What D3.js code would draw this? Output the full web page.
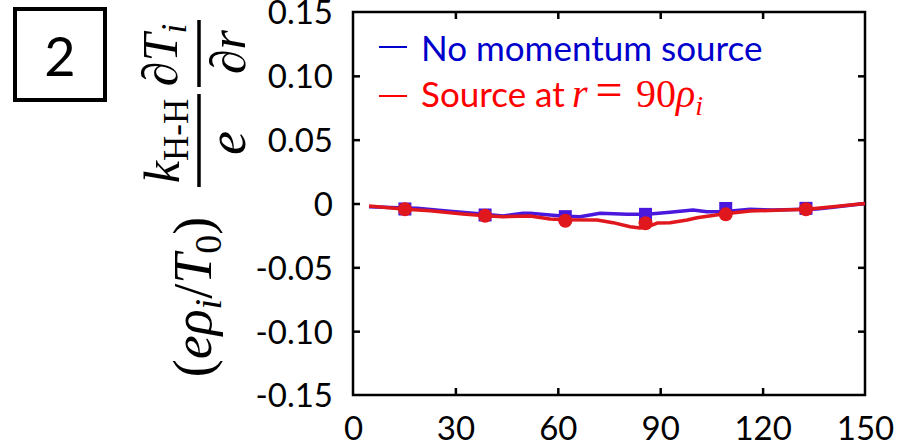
<!DOCTYPE html>
<html>
<head>
<meta charset="utf-8">
<script src="https://cdn.jsdelivr.net/npm/d3@7"></script>
<style>
  html, body { margin: 0; padding: 0; background: #fff; }
  svg { display: block; }
  .sans { font-family: Lato, "Open Sans", sans-serif; }
  .math { font-family: "Liberation Serif", "DejaVu Serif", serif; }
</style>
</head>
<body>
<svg id="chart" width="899" height="442"></svg>
<script>
// Radial coordinate r (rho_i) and heat-flux term for the two runs
const blueX = [4.7, 15.5, 18.8, 27.5, 38.7, 43.9, 49.8, 51.9, 57.7, 62.4, 66.5, 72.4, 80.3, 86.1, 92.9, 99.6, 103.7, 109.3, 116.3, 123.0, 135.9, 140.6, 150];
const blueY = [-0.0025, -0.0035, -0.0038, -0.0059, -0.0085, -0.0098, -0.0077, -0.0077, -0.0090, -0.0100, -0.0103, -0.0077, -0.0085, -0.0085, -0.0069, -0.0051, -0.0064, -0.0062, -0.0045, -0.0051, -0.0043, -0.0030, 0];
const redX = [4.7, 15.5, 22.6, 32.2, 38.7, 43.9, 51.9, 57.7, 62.4, 71.5, 76.2, 81.2, 84.1, 86.1, 89.1, 92.9, 97.9, 100.8, 108.4, 116.3, 126.0, 133.0, 140.6, 150];
const redY = [-0.0020, -0.0045, -0.0056, -0.0082, -0.0096, -0.0103, -0.0098, -0.0121, -0.0128, -0.0129, -0.0150, -0.0182, -0.0192, -0.0185, -0.0153, -0.0150, -0.0129, -0.0111, -0.0082, -0.0059, -0.0051, -0.0045, -0.0025, 0];

// Sampled points drawn as markers
const markerX = [15.2, 38.7, 62.2, 85.7, 109.2, 132.7];
const blueMarkY = [-0.0043, -0.0090, -0.0103, -0.0085, -0.0039, -0.0038];
const redMarkY = [-0.0045, -0.0096, -0.0135, -0.0155, -0.0085, -0.0045];

const seriesNames = ["No momentum source", "Source at "];
const xTicks = [0, 30, 60, 90, 120, 150];
const xTickLabels = ["0", "30", "60", "90", "120", "150"];
const yTicks = [-0.15, -0.10, -0.05, 0, 0.05, 0.10, 0.15];
const yTickLabels = ["-0.15", "-0.10", "-0.05", "0", "0.05", "0.10", "0.15"];
const panelLabel = "2";

const blueColor = "#4a18dc";
const redColor = "#e0171c";

const svg = d3.select("#chart");
const m = { left: 353, top: 12, right: 865, bottom: 395 };

const x = d3.scaleLinear().domain([0, 150]).range([m.left, m.right]);
const y = d3.scaleLinear().domain([-0.15, 0.15]).range([m.bottom, m.top]);

// Axes: inward ticks on all four sides, labels on left and bottom
const tickLen = 7;
const innerY = yTicks.filter(d => Math.abs(d) < 0.149);
const innerX = xTicks.filter(d => d > 0 && d < 150);

const leftAxis = svg.append("g").attr("transform", `translate(${m.left},0)`)
  .call(d3.axisLeft(y).tickValues(yTicks).tickFormat((d, i) => yTickLabels[i])
    .tickSizeInner(-tickLen).tickSizeOuter(0).tickPadding(20));
leftAxis.selectAll(".tick line").filter(d => Math.abs(d) > 0.149).remove();

const rightAxis = svg.append("g").attr("transform", `translate(${m.right},0)`)
  .call(d3.axisRight(y).tickValues(innerY).tickFormat("").tickSizeInner(-tickLen).tickSizeOuter(0));

const topAxis = svg.append("g").attr("transform", `translate(0,${m.top})`)
  .call(d3.axisTop(x).tickValues(innerX).tickFormat("").tickSizeInner(-tickLen).tickSizeOuter(0));

const bottomAxis = svg.append("g").attr("transform", `translate(0,${m.bottom})`)
  .call(d3.axisBottom(x).tickValues(xTicks).tickFormat((d, i) => xTickLabels[i])
    .tickSizeInner(-tickLen).tickSizeOuter(0).tickPadding(22));
bottomAxis.selectAll(".tick line").filter(d => d === 0 || d === 150).remove();

[leftAxis, rightAxis, topAxis, bottomAxis].forEach(a => {
  a.select(".domain").remove();
  a.selectAll(".tick line").attr("stroke", "#000").attr("stroke-width", 2.5);
  a.selectAll(".tick text").attr("class", "sans").attr("font-size", 33).attr("fill", "#000");
});
leftAxis.selectAll(".tick text").attr("dy", "0.36em");
bottomAxis.selectAll(".tick text").attr("dy", "0.71em");

// Plot frame
svg.append("rect")
  .attr("x", m.left).attr("y", m.top)
  .attr("width", m.right - m.left).attr("height", m.bottom - m.top)
  .attr("fill", "none").attr("stroke", "#000").attr("stroke-width", 2.5);

// Curves and markers
const line = d3.line().x(d => x(d[0])).y(d => y(d[1]));
const bluePts = blueX.map((v, i) => [v, blueY[i]]);
const redPts = redX.map((v, i) => [v, redY[i]]);

svg.append("path").datum(bluePts).attr("d", line)
  .attr("fill", "none").attr("stroke", blueColor).attr("stroke-width", 3.5).attr("stroke-linejoin", "round");

const sq = 13;
svg.append("g").selectAll("rect").data(markerX.map((v, i) => [v, blueMarkY[i]])).join("rect")
  .attr("x", d => x(d[0]) - sq / 2).attr("y", d => y(d[1]) - sq / 2)
  .attr("width", sq).attr("height", sq).attr("fill", blueColor);

svg.append("path").datum(redPts).attr("d", line)
  .attr("fill", "none").attr("stroke", redColor).attr("stroke-width", 3.5).attr("stroke-linejoin", "round");

svg.append("g").selectAll("circle").data(markerX.map((v, i) => [v, redMarkY[i]])).join("circle")
  .attr("cx", d => x(d[0])).attr("cy", d => y(d[1])).attr("r", 7).attr("fill", redColor);

// Legend
const lg = svg.append("g");
lg.append("line").attr("x1", 379).attr("x2", 407).attr("y1", 47).attr("y2", 47)
  .attr("stroke", "#0000cc").attr("stroke-width", 2);
lg.append("text").attr("class", "sans").attr("x", 421).attr("y", 61)
  .attr("font-size", 35).attr("fill", "#0000cc").text(seriesNames[0]);

lg.append("line").attr("x1", 379).attr("x2", 407).attr("y1", 96).attr("y2", 96)
  .attr("stroke", "#ff0000").attr("stroke-width", 2);
lg.append("text").attr("class", "sans").attr("x", 421).attr("y", 107)
  .attr("font-size", 35).attr("fill", "#ff0000").text(seriesNames[1]);

const eqSize = 40;
lg.append("text").attr("class", "math").attr("x", 572).attr("y", 107)
  .attr("font-size", eqSize).attr("font-style", "italic").attr("fill", "#ff0000").text("r");
lg.append("text").attr("class", "math").attr("x", 609).attr("y", 106)
  .attr("text-anchor", "middle").attr("font-size", 48).attr("fill", "#ff0000").text("=");
const rhs = lg.append("text").attr("class", "math").attr("x", 636).attr("y", 107)
  .attr("font-size", eqSize).attr("fill", "#ff0000");
rhs.append("tspan").text("90");
rhs.append("tspan").attr("font-style", "italic").text("ρ");
rhs.append("tspan").attr("font-style", "italic").attr("font-size", 28).attr("dy", 8).text("i");

// Y-axis title, rotated so it reads bottom to top
const yt = svg.append("g").attr("transform", "translate(199,395) rotate(-90)");
const mathSize = 50, subSize = 35;

const units = yt.append("text").attr("class", "math").attr("x", 98).attr("y", 12)
  .attr("text-anchor", "middle").attr("font-size", 54).attr("fill", "#000");
units.append("tspan").text("(");
units.append("tspan").attr("font-style", "italic").text("eρ");
units.append("tspan").attr("font-style", "italic").attr("font-size", 38).attr("dy", 10).text("i");
units.append("tspan").attr("dy", -10).text("/");
units.append("tspan").attr("font-style", "italic").text("T");
units.append("tspan").attr("font-size", 38).attr("dy", 10).text("0");
units.append("tspan").attr("dy", -10).text(")");

// k_H-H / e
yt.append("line").attr("x1", 208).attr("x2", 301).attr("y1", 0).attr("y2", 0)
  .attr("stroke", "#000").attr("stroke-width", 3.5);
const num1 = yt.append("text").attr("class", "math").attr("x", 254).attr("y", -20)
  .attr("text-anchor", "middle").attr("font-size", mathSize).attr("fill", "#000");
num1.append("tspan").attr("font-style", "italic").text("k");
num1.append("tspan").attr("font-size", subSize).attr("dy", 9).text("H-H");
yt.append("text").attr("class", "math").attr("x", 252).attr("y", 46)
  .attr("text-anchor", "middle").attr("font-size", 54).attr("font-style", "italic")
  .attr("fill", "#000").text("e");

// dT_i / dr
yt.append("line").attr("x1", 308).attr("x2", 375).attr("y1", 0).attr("y2", 0)
  .attr("stroke", "#000").attr("stroke-width", 3.5);
const num2 = yt.append("text").attr("class", "math").attr("x", 340).attr("y", -22)
  .attr("text-anchor", "middle").attr("font-size", mathSize).attr("fill", "#000");
num2.append("tspan").text("∂");
num2.append("tspan").attr("font-style", "italic").text("T");
num2.append("tspan").attr("font-style", "italic").attr("font-size", subSize).attr("dy", 9).text("i");
const den2 = yt.append("text").attr("class", "math").attr("x", 343).attr("y", 46)
  .attr("text-anchor", "middle").attr("font-size", mathSize).attr("fill", "#000");
den2.append("tspan").text("∂");
den2.append("tspan").attr("font-style", "italic").text("r");

// Panel number in a box
svg.append("rect").attr("x", 15).attr("y", 9).attr("width", 90).attr("height", 91)
  .attr("fill", "none").attr("stroke", "#000").attr("stroke-width", 4);
svg.append("text").attr("class", "sans").attr("x", 60).attr("y", 76)
  .attr("text-anchor", "middle").attr("font-size", 54).attr("fill", "#000").text(panelLabel);
</script>
</body>
</html>
